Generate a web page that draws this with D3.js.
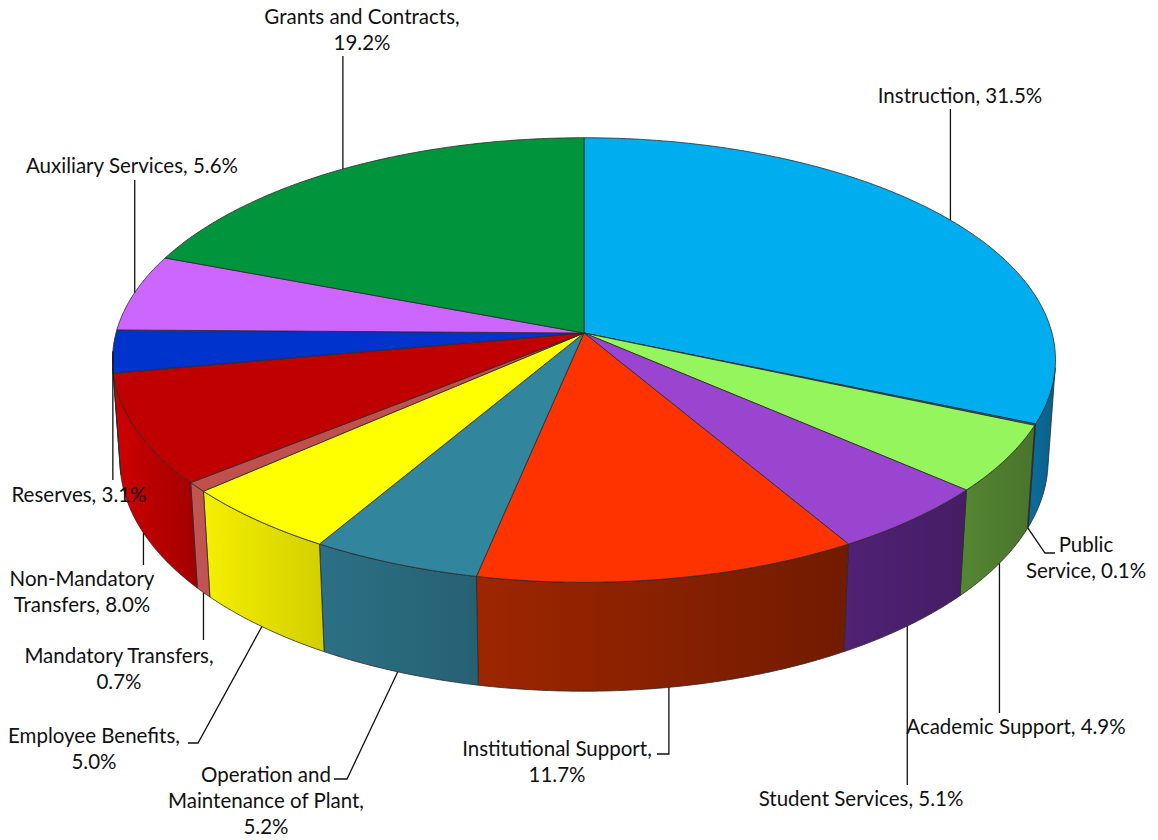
<!DOCTYPE html>
<html>
<head>
<meta charset="utf-8">
<script src="https://cdn.jsdelivr.net/npm/d3@7"></script>
<style>
  html, body { margin: 0; padding: 0; background: #ffffff; }
  svg { display: block; }
  .label { font-family: Lato, "Open Sans", sans-serif; font-size: 20.5px; fill: #111; }
  .leader { fill: none; stroke: #111; stroke-width: 1.3; }
</style>
</head>
<body>
<svg id="chart" width="1158" height="840"></svg>
<script>
// Budget shares by function (percent of total)
const categories = [
  "Instruction", "Public Service", "Academic Support", "Student Services",
  "Institutional Support", "Operation and Maintenance of Plant", "Employee Benefits",
  "Mandatory Transfers", "Non-Mandatory Transfers", "Reserves",
  "Auxiliary Services", "Grants and Contracts"
];
const shares = [31.5, 0.1, 4.9, 5.1, 11.7, 5.2, 5.0, 0.7, 8.0, 3.1, 5.6, 19.2];

// Slice palette: top faces and outer walls
const topColors = [
  "#00aeef", "#1a6f9c", "#94f55d", "#9a45cf", "#ff3300", "#31859c",
  "#ffff00", "#c0504d", "#c00000", "#0033cc", "#cc66ff", "#00953d"
];
const sideColors = [
  "#0b6490", "#14557a", "#4e7c2f", "#4a1f6c", "#852000", "#29687c",
  "#e4df00", "#c35454", "#b90000", "#0a2c9c", "#9a4cc0", "#006b2c"
];

// How many words go on each line of a data label
const labelWordsPerLine = [[2], [1, 2], [3], [3], [2, 1], [2, 3, 1], [2, 1], [2, 1], [1, 2], [2], [3], [3, 1]];
// Label text position: centre x, first baseline y
const labelAnchor = [
  [960, 103], [1086, 552], [1016, 734], [861, 806], [557, 756], [266, 782],
  [94, 743], [119, 663], [82, 586], [79, 502], [132, 173], [362, 24]
];
// Leader line end (null x = straight vertical from the slice) and optional horizontal stub end
const leaderEnd = [
  [null, 109], [1045, 553], [null, 713], [null, 785], [null, 754], [347, 779],
  [198, 743], [null, 640], [null, 565], [null, 480], [null, 180], [null, 56]
];
const leaderStub = [null, 1055, null, null, 657, 334, 188, null, null, null, null, null];

const svg = d3.select("#chart");

// ---- 3D view of a unit-radius disc ----
const cx = 584, cy = 333;
const tilt = 27.9 * Math.PI / 180;
const dist = 7.27;            // camera distance, in radii
const focal = 468 * dist;     // screen scale
const thickness = 0.245;      // pie height, in radii

function project(theta, y, r = 1) {
  const X = r * Math.sin(theta), Z = r * Math.cos(theta);
  const v = y * Math.cos(tilt) + Z * Math.sin(tilt);
  const w = dist + Z * Math.cos(tilt) - y * Math.sin(tilt);
  return [cx + focal * X / w, cy - focal * v / w];
}

// the outer wall faces the camera where cos(theta) < -1/(dist*cos(tilt))
const thetaC = Math.acos(-1 / (dist * Math.cos(tilt)));
const visLo = thetaC, visHi = 2 * Math.PI - thetaC;

const pie = d3.pie().sort(null).value(d => d).startAngle(0).endAngle(2 * Math.PI);
const arcs = pie(shares);

const line = d3.line();
const step = Math.PI / 360;

function rimPoints(a0, a1, y) {
  const n = Math.max(2, Math.ceil((a1 - a0) / step));
  return d3.range(n + 1).map(i => project(a0 + (a1 - a0) * i / n, y));
}

const defs = svg.append("defs");
const shadeK = 0.45;

// outer walls
const walls = svg.append("g");
arcs.forEach((a, i) => {
  const t0 = Math.max(a.startAngle, visLo);
  const t1 = Math.min(a.endAngle, visHi);
  if (t1 <= t0) return;
  const top = rimPoints(t0, t1, 0);
  const bottom = rimPoints(t0, t1, -thickness).reverse();
  const mid = (t0 + t1) / 2;
  const base = d3.rgb(sideColors[i]);
  const shade = t => {
    const f = Math.exp(shadeK * (t - mid));
    return d3.rgb(base.r * f, base.g * f, base.b * f).formatHex();
  };
  const gid = "wall" + i;
  const g = defs.append("linearGradient").attr("id", gid)
    .attr("gradientUnits", "userSpaceOnUse")
    .attr("x1", top[0][0]).attr("y1", 0)
    .attr("x2", top[top.length - 1][0]).attr("y2", 0);
  g.append("stop").attr("offset", 0).attr("stop-color", shade(t0));
  g.append("stop").attr("offset", 1).attr("stop-color", shade(t1));
  walls.append("path")
    .attr("d", line(top.concat(bottom)) + "Z")
    .attr("fill", `url(#${gid})`)
    .attr("stroke", "#2a2a2a")
    .attr("stroke-width", 0.8)
    .attr("stroke-linejoin", "round");
});

// top faces
const tops = svg.append("g");
arcs.forEach((a, i) => {
  const pts = [project(0, 0, 0)].concat(rimPoints(a.startAngle, a.endAngle, 0));
  tops.append("path")
    .attr("d", line(pts) + "Z")
    .attr("fill", topColors[i])
    .attr("stroke", "#2a2a2a")
    .attr("stroke-width", 0.8)
    .attr("stroke-linejoin", "round");
});

// data labels with leader lines
const labels = svg.append("g");
arcs.forEach((a, i) => {
  const mid = (a.startAngle + a.endAngle) / 2;
  const onWall = mid > visLo && mid < visHi;
  const p = project(mid, onWall ? -thickness : 0);
  const e = leaderEnd[i];
  const ex = e[0] === null ? p[0] : e[0];
  const pts = [p, [ex, e[1]]];
  if (leaderStub[i] !== null) pts.push([leaderStub[i], e[1]]);
  labels.append("path").attr("class", "leader").attr("d", line(pts));

  const text = `${categories[i]}, ${shares[i].toFixed(1)}%`;
  const words = text.split(" ");
  const rows = [];
  let k = 0;
  labelWordsPerLine[i].forEach(n => { rows.push(words.slice(k, k + n).join(" ")); k += n; });
  const t = labels.append("text").attr("class", "label")
    .attr("text-anchor", "middle")
    .attr("x", labelAnchor[i][0]).attr("y", labelAnchor[i][1]);
  rows.forEach((r, j) => {
    t.append("tspan").attr("x", labelAnchor[i][0]).attr("dy", j === 0 ? 0 : 25.8).text(r);
  });
});
</script>
</body>
</html>
